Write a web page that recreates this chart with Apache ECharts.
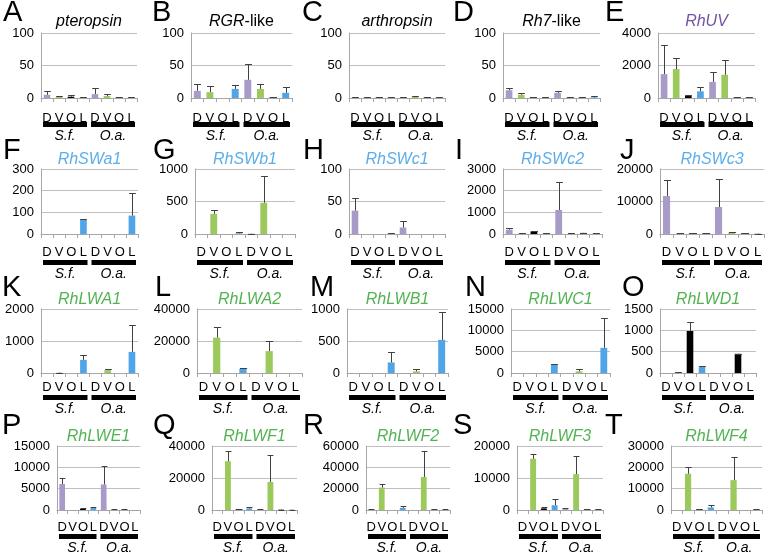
<!DOCTYPE html>
<html><head><meta charset="utf-8">
<script src="https://cdn.jsdelivr.net/npm/echarts@6/dist/echarts.min.js"></script>
<style>html,body{margin:0;padding:0;background:#fff}#c{width:767px;height:560px}</style>
</head><body><div id="c"></div>
<script>
// ---------- data ----------
const categories = ['D','V','O','L','D','V','O','L'];
const groups = ['S.f.','O.a.'];
const letters = ['A','B','C','D','E','F','G','H','I','J','K','L','M','N','O','P','Q','R','S','T'];
const genes = ['pteropsin','RGR-like','arthropsin','Rh7-like','RhUV',
  'RhSWa1','RhSWb1','RhSWc1','RhSWc2','RhSWc3',
  'RhLWA1','RhLWA2','RhLWB1','RhLWC1','RhLWD1',
  'RhLWE1','RhLWF1','RhLWF2','RhLWF3','RhLWF4'];
const yMax  = [100,100,100,100,4000, 300,1000,100,3000,20000, 2000,40000,1000,15000,1500, 15000,40000,60000,20000,30000];
const yStep = [50,50,50,50,2000, 100,500,50,1000,10000, 1000,20000,500,5000,500, 5000,20000,20000,10000,10000];

// means (S.f. D V O L, O.a. D V O L) and upper error
const A_mean = [5, 2, 2, 1, 6, 3, 1, 1];            const A_err = [6, 1, 3, 0.5, 9, 3, 0.5, 1];
const B_mean = [11, 9, 0, 14, 28, 14, 1, 8];        const B_err = [11, 9, 0, 6, 24, 8, 0.5, 9];
const C_mean = [1, 1, 1, 1, 1, 2, 1, 1];            const C_err = [0.3, 0.3, 0.3, 0.3, 0.3, 1, 0.3, 0.3];
const D_mean = [12, 5, 1.5, 1, 8, 1.5, 0.5, 1];     const D_err = [4, 2, 0.5, 0.5, 3, 0.3, 0.3, 2];
const E_mean = [1470, 1780, 120, 410, 990, 1430, 30, 50]; const E_err = [1800, 680, 45, 270, 600, 910, 10, 10];
const F_mean = [0, 0, 0, 66, 0, 0, 0, 85];          const F_err = [0, 0, 0, 3, 0, 0, 0, 103];
const G_mean = [0, 310, 0, 10, 4, 480, 0, 0];       const G_err = [0, 53, 0, 26, 1, 420, 0, 0];
const H_mean = [36, 0, 0, 1, 10, 0, 0, 0];          const H_err = [19, 0, 0, 0.5, 10, 0, 0, 0];
const I_mean = [200, 20, 120, 20, 1110, 20, 50, 20]; const I_err = [60, 5, 20, 5, 1280, 5, 10, 5];
const J_mean = [11700, 200, 200, 300, 8300, 300, 200, 100]; const J_err = [4900, 50, 50, 50, 8700, 200, 50, 50];
const K_mean = [0, 10, 0, 410, 0, 90, 0, 660];      const K_err = [0, 5, 0, 150, 0, 35, 0, 830];
const L_mean = [0, 22100, 0, 2500, 0, 13700, 0, 0]; const L_err = [0, 6500, 0, 900, 0, 6300, 0, 0];
const M_mean = [0, 0, 0, 165, 0, 25, 0, 518];       const M_err = [0, 0, 0, 160, 0, 32, 0, 430];
const N_mean = [0, 0, 0, 1900, 0, 390, 0, 5900];    const N_err = [0, 0, 0, 200, 0, 540, 0, 7100];
const O_mean = [0, 15, 985, 150, 0, 0, 450, 0];     const O_err = [0, 5, 215, 10, 0, 0, 5, 0];
const P_mean = [6100, 0, 300, 500, 6000, 200, 100, 0]; const P_err = [1400, 0, 100, 300, 4300, 100, 50, 0];
const Q_mean = [0, 30500, 500, 1000, 500, 17500, 200, 200]; const Q_err = [0, 6500, 300, 1000, 300, 17000, 100, 100];
const R_mean = [500, 21000, 0, 2000, 0, 31000, 500, 300]; const R_err = [200, 3500, 0, 2000, 0, 24000, 200, 200];
const S_mean = [0, 16000, 500, 1500, 300, 11200, 200, 200]; const S_err = [0, 1500, 300, 2000, 200, 5800, 100, 100];
const T_mean = [0, 17000, 300, 1200, 0, 14000, 0, 200]; const T_err = [0, 3000, 200, 1300, 0, 11000, 0, 100];

const means = [A_mean,B_mean,C_mean,D_mean,E_mean,F_mean,G_mean,H_mean,I_mean,J_mean,K_mean,L_mean,M_mean,N_mean,O_mean,P_mean,Q_mean,R_mean,S_mean,T_mean];
const errs  = [A_err,B_err,C_err,D_err,E_err,F_err,G_err,H_err,I_err,J_err,K_err,L_err,M_err,N_err,O_err,P_err,Q_err,R_err,S_err,T_err];

// ---------- layout / style ----------
const plotL = [41,191,349,503,658, 41,195,349,503,660, 41,197,347,511,660, 57,212,366,517,671];
const plotR = [137,292,445,600,755, 138,295,445,602,764, 138,302,448,610,756, 140,297,450,603,762];
const rowTop = [33,169,309,446];
const rowBot = [98,234,373,510];
const labMargin = [14,12,8,11];
const barMargin = [24,26,22,24];
const letterX = [3,152,302,453,605, 3,153,303,455,620, 2,155,310,465,622, 2,153,303,453,605];
const letterTop = [-2,136,273,411];
const geneTop = [14,152,292,429];
const barColors = ['#A99BC8','#9CC95B','#000000','#4FA5E7'];
const FONT = 'Liberation Sans, Arial, sans-serif';
function geneColor(i){ if(i<4) return '#000'; if(i===4) return '#7352A6'; if(i<10) return '#5BAEE9'; return '#52B352'; }

const grid=[], xAxis=[], yAxis=[], series=[], title=[];
genes.forEach((g,i)=>{
  const r = Math.floor(i/5);
  const w = plotR[i]-plotL[i];
  grid.push({left:plotL[i], top:rowTop[r], width:w, height:rowBot[r]-rowTop[r], containLabel:false});
  xAxis.push({gridIndex:i, type:'category', data:categories,
    axisLine:{lineStyle:{color:'#A6A6A6'}},
    axisTick:{show:true, length:4, interval:0, lineStyle:{color:'#A6A6A6'}},
    axisLabel:{interval:0, margin:labMargin[r], fontSize:13, color:'#000', fontFamily:FONT}});
  xAxis.push({gridIndex:i, type:'category', data:groups, position:'bottom',
    axisLine:{show:false}, axisTick:{show:false}, splitLine:{show:false},
    axisLabel:{interval:0, margin:barMargin[r], formatter:v=>'{b|}\n{t|'+v+'}',
      rich:{b:{width:w/2-4, height:5, lineHeight:5, backgroundColor:'#000'},
            t:{fontStyle:'italic', fontSize:14, lineHeight:16, color:'#000', fontFamily:FONT, padding:[3,0,0,0]}}}});
  yAxis.push({gridIndex:i, type:'value', min:0, max:yMax[i], interval:yStep[i],
    axisLine:{show:true, lineStyle:{color:'#A6A6A6'}}, axisTick:{show:false},
    splitLine:{lineStyle:{color:'#BFBFBF'}},
    axisLabel:{fontSize:13, color:'#000', margin:7, fontFamily:FONT, formatter:v=>String(v)}});
  series.push({type:'bar', xAxisIndex:2*i, yAxisIndex:i, barWidth:'55%', silent:true,
    data: means[i].map((v,k)=>({value:v, itemStyle:{color:barColors[k%4]}}))});
  series.push({type:'custom', xAxisIndex:2*i, yAxisIndex:i, z:5, silent:true,
    data: means[i].map((v,k)=>[k, v, errs[i][k]]),
    renderItem:function(params, api){
      const x=api.value(0), m=api.value(1), e=api.value(2);
      if(!(e>0)) return {type:'group', children:[]};
      const p0=api.coord([x,m]), p1=api.coord([x,m+e]);
      const cw=api.size([1,0])[0]*0.55;
      const cx=Math.round(p0[0])+0.5, y1=Math.round(p1[1])+0.5;
      return {type:'group', children:[
        {type:'line', shape:{x1:cx,y1:p0[1],x2:cx,y2:y1}, style:{stroke:'#404040', lineWidth:1}},
        {type:'line', shape:{x1:cx-cw/2,y1:y1,x2:cx+cw/2,y2:y1}, style:{stroke:'#404040', lineWidth:1}}
      ]};
    }});
  title.push({text:letters[i], left:letterX[i], top:letterTop[r], padding:0,
    textStyle:{fontSize:29, fontWeight:'normal', color:'#000', fontFamily:FONT}});
  let txt;
  if (g.endsWith('-like')) txt = '{i|'+g.slice(0,-5)+'}{n|-like}';
  else txt = '{i|'+g+'}';
  const gc = geneColor(i);
  title.push({text:txt, left:(plotL[i]+plotR[i])/2, top:geneTop[r], textAlign:'center', padding:0,
    textStyle:{fontSize:16, fontWeight:'normal', color:gc, fontFamily:FONT,
      rich:{i:{fontStyle:'italic', fontWeight:'normal', fontSize:16, color:gc, fontFamily:FONT},
            n:{fontStyle:'normal', fontWeight:'normal', fontSize:16, color:gc, fontFamily:FONT}}}});
});

const chart = echarts.init(document.getElementById('c'), null, {renderer:'canvas'});
chart.setOption({animation:false, backgroundColor:'#fff', title, grid, xAxis, yAxis, series});
</script></body></html>
